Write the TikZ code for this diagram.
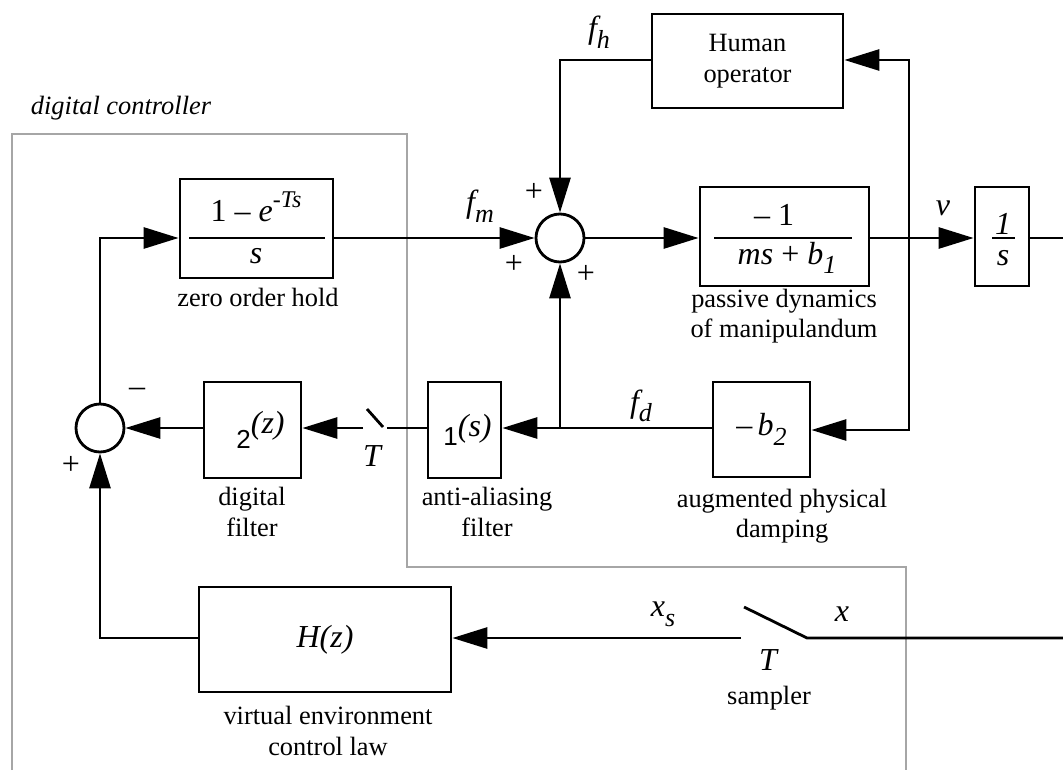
\documentclass[tikz,border=0pt]{standalone}
\usepackage{fontspec}
\usepackage{graphicx}
\setmainfont{Liberation Serif}
\newfontfamily\helv{Liberation Sans}
\usetikzlibrary{arrows.meta}
\newcommand\Lo[1]{\raisebox{-0.3em}{\fontsize{13}{13}\selectfont #1}}
\newcommand\Hi[1]{\raisebox{0.45em}{\fontsize{12}{12}\selectfont #1}}
\begin{document}
\begin{tikzpicture}[x=0.5pt,y=-0.5pt,
  >={Triangle[length=17.5pt,width=10.5pt]},
  every path/.style={line width=1.4pt},
  blk/.style={draw,line width=1.4pt,inner sep=0pt,align=center,
    font=\fontsize{13.2}{15.5}\selectfont},
  sumc/.style={draw,circle,line width=1.4pt,minimum size=24pt,inner sep=0pt},
  lbl/.style={font=\fontsize{13.2}{15.2}\selectfont,align=center,inner sep=0pt},
  mth/.style={font=\fontsize{16}{18}\selectfont,inner sep=0pt},
  var/.style={font=\fontsize{16}{18}\selectfont\itshape,inner sep=0pt},
  sgn/.style={font=\fontsize{16}{18}\selectfont,inner sep=0pt},
  ctl/.style={draw=black!35,line width=1.4pt}
]
\useasboundingbox (0,0) rectangle (1063,770);

% digital controller boundary
\draw[ctl] (12,770) -- (12,134) -- (407,134) -- (407,567) -- (906,567) -- (906,770);
\node[lbl,font=\fontsize{13.2}{15.2}\selectfont\itshape] (dctl) at (121,108) {digital controller};

% blocks
\node[blk,minimum width=76.5pt,minimum height=49.5pt] (zoh) at (256.5,228.5) {};
\node[blk,minimum width=95.5pt,minimum height=47pt] (hum) at (747.5,61) {Human\\operator};
\node[blk,minimum width=84.5pt,minimum height=49.5pt] (pas) at (784.5,236.5) {};
\node[blk,minimum width=27pt,minimum height=49.5pt] (one) at (1002,236.5) {};
\node[blk,minimum width=48.5pt,minimum height=47.5pt,font=\fontsize{16}{18}\selectfont] (b2) at (761.5,429.5) {\raisebox{-2pt}{–\,\textit{b}\Lo{\textit{2}}}};
\node[blk,minimum width=36.5pt,minimum height=48pt,font=\fontsize{16}{18}\selectfont] (anti) at (464.5,430) {\hspace*{3pt}{\helv\raisebox{-0.3em}{\fontsize{13}{13}\selectfont 1}}\textit{(s)}};
\node[blk,minimum width=48.5pt,minimum height=48pt,font=\fontsize{16}{18}\selectfont] (dig) at (252.5,430) {\hspace*{8pt}{\helv\raisebox{-0.3em}{\fontsize{13}{13}\selectfont 2}}\raisebox{0.15em}{\textit{(z)}}};
\node[blk,minimum width=126pt,minimum height=52.5pt,font=\fontsize{16}{18}\selectfont\itshape] (H) at (325,639.5) {H(z)};

% sum junctions
\node[sumc] (s1) at (560,238) {};
\node[sumc] (s2) at (100,428) {};

% fractions
\node[mth] (zn) at (256,207) {1 – \textit{e}\Hi{\textit{-Ts}}};
\node[mth] (zd) at (256,256) {\textit{s}};
\draw (189,238) -- (325,238);
\node[mth] (pn) at (774,215) {– 1};
\node[mth] (pd) at (787,258) {\textit{ms} + \textit{b}\Lo{\textit{1}}};
\draw (714,238) -- (852,238);
\node[mth] (on) at (1003,224) {\textit{1}};
\node[mth] (od) at (1003,258) {\textit{s}};
\draw (992,238) -- (1015,238);

% block captions
\node[lbl] (czoh) at (258,297) {zero order hold};
\node[lbl] (cpas) at (784,316) {passive dynamics\\of manipulandum};
\node[lbl] (cdig) at (252,512) {digital\\filter};
\node[lbl] (canti) at (487,512) {anti-aliasing\\filter};
\node[lbl] (cb2) at (782,516) {augmented physical\\damping};
\node[lbl] (cH) at (328,731) {virtual environment\\control law};
\node[lbl] (csam) at (769,698) {sampler};

% signal labels
\node[var] (lfh) at (599,32) {f\Lo{h}};
\node[var] (lfm) at (480,206) {f\Lo{m}};
\node[var] (lv) at (943,208) {v};
\node[var] (lfd) at (641,406) {f\Lo{d}};
\node[var] (lxs) at (663,614) {x\Lo{s}};
\node[var] (lx) at (842,614) {x};
\node[var] (lT2) at (768,660) {T};
\node[var] (lT1) at (372,456) {T};

% signs
\node[sgn] (p1) at (534,192) {+};
\node[sgn] (p2) at (514,264) {+};
\node[sgn] (p3) at (586,274) {+};
\node[sgn] (m4) at (137,392) {–};
\node[sgn] (p5) at (71,465) {+};

% connectors
\coordinate (fh) at (560,60);
\draw[->] (hum.west |- fh) -- (fh) -- (s1.north);
\coordinate (vt) at (909,60);
\coordinate (vb) at (909,430);
\draw[<->] (hum.east |- vt) -- (vt) -- (vb) -- (b2.east |- vb);

\draw[->] (zoh.east |- s1) -- (s1.west);
\draw[->] (s1.east) -- (pas.west |- s1);
\draw[->] (pas.east |- s1) -- (one.west |- s1);
\coordinate (re) at (1063,238);
\draw (one.east |- s1) -- (re);

\coordinate (j) at (560,428);
\draw[->] (b2.west |- s2) -- (anti.east |- s2);
\draw[->] (j) -- (s1.south);
\coordinate (sa) at (387,428);
\coordinate (sb) at (383,427);
\coordinate (sc) at (367,409);
\coordinate (sd) at (363,428);
\draw (anti.west |- s2) -- (sa);
\draw (sb) -- (sc);
\draw[->] (sd) -- (dig.east |- s2);
\draw[->] (dig.west |- s2) -- (s2.east);
\coordinate (up) at (100,238);
\draw[->] (s2.north) -- (up) -- (zoh.west |- up);

\coordinate (br) at (1063,638);
\coordinate (ta) at (807,638);
\coordinate (tb) at (744,607);
\coordinate (tc) at (741,638);
\draw (br) -- (ta) -- (tb);
\draw[->] (tc) -- (H.east |- tc);
\coordinate (bl) at (100,638);
\draw[->] (H.west |- tc) -- (bl) -- (s2.south);
\end{tikzpicture}
\end{document}
